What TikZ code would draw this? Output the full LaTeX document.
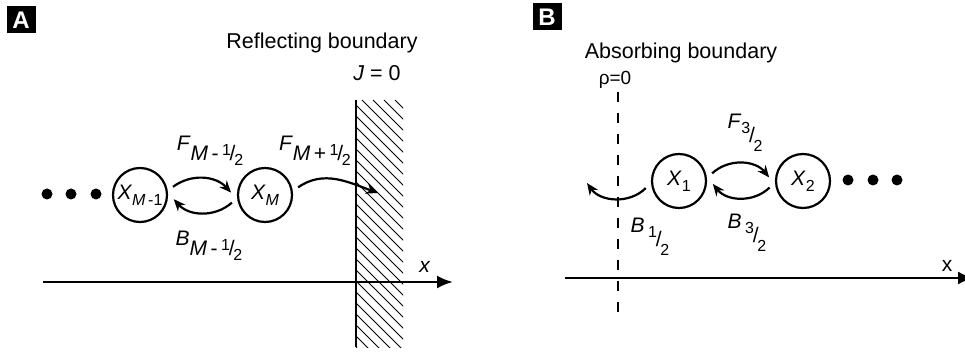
\documentclass[tikz,border=0pt]{standalone}
\usepackage{fontspec}
\setmainfont{Liberation Sans}
\usetikzlibrary{arrows.meta}
\newcommand{\digsz}{\fontsize{16}{16}\selectfont}
% raised numerator, slash, lowered denominator (heights from the label's baseline)
\newcommand{\slfrac}[4]{\raisebox{#1}{\digsz #2}\kern-0.06em\raisebox{\dimexpr(#1+#3)/2\relax}{/}\kern-0.06em\raisebox{#3}{\digsz #4}}
\begin{document}
\begin{tikzpicture}[x=1pt,y=-1pt,
		every node/.style={font=\fontsize{21}{21}\selectfont},
		state/.style={circle, draw, line width=2.2pt, minimum size=54pt, inner sep=0pt, outer sep=7pt},
		flow/.style={-{Stealth[length=12pt,width=10pt]}, line width=2.2pt},
		axis/.style={-{Latex[length=16pt,width=13pt]}, line width=2.5pt},
		panel/.style={fill=black, text=white, font=\fontsize{24}{24}\selectfont\bfseries, minimum width=29pt, minimum height=27pt, inner sep=0pt}]
	\useasboundingbox (0,0) rectangle (965,352);
	% panel A: reflecting boundary
	\node[panel] (lblA) at (21,20) {A};
	\node[font=\fontsize{21.5}{21.5}\selectfont] (refl) at (322,43) {Reflecting boundary};
	\node[font=\fontsize{21.5}{21.5}\selectfont] (jzero) at (377,73) {\textit{J} = 0};
	\begin{scope}
		\clip (356,100) rectangle (403,347);
		\foreach \k in {0,...,27} { \draw[line width=0.9pt] (109+\k*11,100) -- ++(260,260); }
	\end{scope}
	\draw[line width=2.5pt] (356,100) -- (356,347);
	\foreach \x in {47,71,96} { \fill (\x,194) circle (5.5pt); }
	\node[state] (xm1) at (140,195) {\textit{X}\raisebox{-0.3em}{\digsz\textit{M}\,-1}};
	\node[state] (xm) at (265,195) {\textit{X}\raisebox{-0.3em}{\digsz\textit{M}}};
	\coordinate (wall) at (378,193);
	\draw[flow] (xm1.14) to[bend left=42] (xm.176);
	\draw[flow] (xm.193) to[bend left=45] (xm1.-7);
	\draw[flow] (xm.13) to[out=35,in=160] (wall);
	\node (fm) at (210,151) {\textit{F}\raisebox{-0.48em}{\textit{M}\,-}\,\slfrac{-0.22em}{1}{-0.72em}{2}};
	\node (bm) at (209,246) {\textit{B}\raisebox{-0.48em}{\textit{M}\,-}\,\slfrac{-0.22em}{1}{-0.72em}{2}};
	\node (fp) at (315,151) {\textit{F}\raisebox{-0.48em}{\textit{M}\,+}\,\slfrac{-0.22em}{1}{-0.72em}{2}};
	\coordinate (axA0) at (43,282);
	\coordinate (axA1) at (453,282);
	\draw[axis] (axA0) -- (axA1);
	\node[font=\fontsize{21}{21}\selectfont] (xA) at (425,267) {\textit{x}};
	% panel B: absorbing boundary
	\node[panel] (lblB) at (547,17) {B};
	\node[font=\fontsize{21.5}{21.5}\selectfont] (absb) at (681,53) {Absorbing boundary};
	\node[font=\fontsize{19}{19}\selectfont] (rho) at (615,80) {ρ=0};
	\draw[line width=2.5pt, dash pattern=on 10pt off 11pt] (618,92) -- (618,315);
	\node[state] (x1) at (679,181) {\textit{X}\raisebox{-0.3em}{\digsz 1}};
	\node[state] (x2) at (803,181) {\textit{X}\raisebox{-0.3em}{\digsz 2}};
	\foreach \x in {848,873,897} { \fill (\x,180) circle (5.5pt); }
	\coordinate (out) at (587,183);
	\draw[flow] (x1.13) to[bend left=47] (x2.174);
	\draw[flow] (x2.191) to[bend left=48] (x1.-5);
	\draw[flow] (x1.192) to[bend left=50] (out);
	\node (f32) at (745,133) {\textit{F}\slfrac{-0.25em}{3}{-1.1em}{2}};
	\node (b32) at (747,233) {\textit{B}\,\slfrac{-0.25em}{3}{-1.1em}{2}};
	\node (b12) at (650,237) {\textit{B}\,\slfrac{-0.25em}{1}{-1.1em}{2}};
	\coordinate (axB0) at (565,278);
	\coordinate (axB1) at (974,278);
	\draw[axis] (axB0) -- (axB1);
	\node[font=\fontsize{21}{21}\selectfont] (xB) at (947,266) {x};
\end{tikzpicture}
\end{document}
